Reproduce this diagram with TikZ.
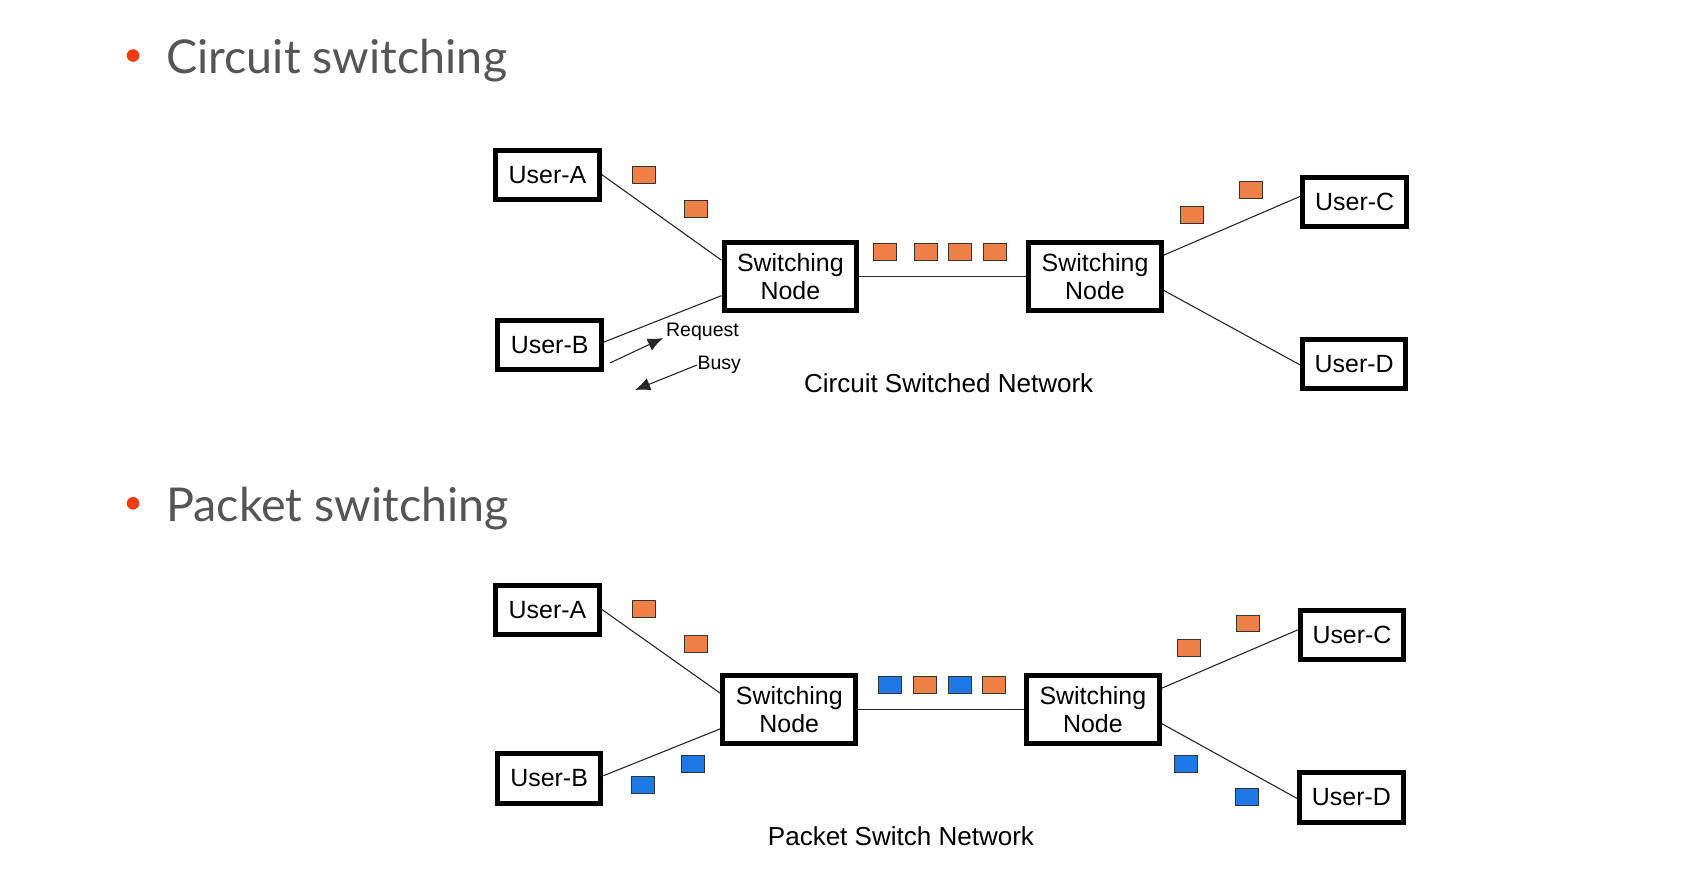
\documentclass[tikz,border=0pt]{standalone}
\usepackage{fontspec}
\setmainfont{Liberation Sans}
\newfontfamily\titlefont{Lato}
\usetikzlibrary{calc,arrows.meta}
\definecolor{pktorange}{RGB}{238,128,72}
\definecolor{pktblue}{RGB}{30,120,230}
\definecolor{titlegray}{RGB}{85,85,85}
\definecolor{bulletred}{RGB}{240,60,20}
\begin{document}
\begin{tikzpicture}[x=0.5pt,y=-0.5pt,
  box/.style={draw, line width=2.3pt, fill=white, inner sep=0pt, align=center,
    font=\fontsize{11.5}{13}\selectfont},
  user/.style={box, minimum width=47.7pt, minimum height=22.7pt},
  switchbox/.style={box, minimum width=61.2pt, minimum height=31.7pt},
  pkt/.style={draw=black!80, line width=0.4pt, minimum width=10.6pt, minimum height=7.8pt, inner sep=0pt},
  opkt/.style={pkt, fill=pktorange},
  bpkt/.style={pkt, fill=pktblue},
  link/.style={draw=black!85, line width=0.5pt},
  tip/.style={-{Latex[length=7pt,width=6pt]}},
  caption/.style={font=\fontsize{12}{14}\selectfont, inner sep=0pt},
  small/.style={font=\fontsize{9}{10}\selectfont, inner sep=0pt},
  title/.style={font=\titlefont\fontsize{21.5}{24}\selectfont, text=titlegray, inner sep=0pt, anchor=base west},
  bullet/.style={circle, fill=bulletred, minimum size=5.8pt, inner sep=0pt}
]
\fill[white] (0,0) rectangle (1568,810);
\useasboundingbox (0,0) rectangle (1568,810);

% ---------- titles ----------
\node[bullet] (b1) at (122.7,51.2) {};
\node[title] (t1) at (153,67.6) {Circuit switching};
\node[bullet] (b2) at (122.7,464.2) {};
\node[title] (t2) at (153,480.6) {Packet switching};

% ---------- circuit switched network ----------
\node[user] (UA1) at (505,161.5) {User-A};
\node[user] (UB1) at (507,318) {User-B};
\node[switchbox] (SNa1) at (729,255) {Switching\\Node};
\node[switchbox] (SNb1) at (1010,255) {Switching\\Node};
\node[user] (UC1) at (1249.5,186) {User-C};
\node[user] (UD1) at (1249,335.5) {User-D};

\draw[link] ($(UA1.north east)!0.49!(UA1.south east)$) -- ($(SNa1.north west)!0.28!(SNa1.south west)$);
\draw[link] ($(UB1.north east)!0.45!(UB1.south east)$) -- ($(SNa1.north west)!0.76!(SNa1.south west)$);
\draw[link] (SNa1.east) -- (SNb1.west);
\draw[link] ($(SNb1.north east)!0.21!(SNb1.south east)$) -- ($(UC1.north west)!0.40!(UC1.south west)$);
\draw[link] ($(SNb1.north east)!0.69!(SNb1.south east)$) -- ($(UD1.north west)!0.52!(UD1.south west)$);

\node[opkt] (p1) at (594,161.5) {};
\node[opkt] (p2) at (642,193) {};
\node[opkt] (p3) at (816,232) {};
\node[opkt] (p4) at (854,232) {};
\node[opkt] (p5) at (885,232) {};
\node[opkt] (p6) at (918,232) {};
\node[opkt] (p7) at (1099,198) {};
\node[opkt] (p8) at (1154,175) {};

\coordinate (rq1) at (562.6,334.8);
\coordinate (rq2) at (611.5,311.8);
\draw[link,tip] (rq1) -- (rq2);
\node[small, anchor=west] (rq) at (614,306) {Request};
\node[small, anchor=west] (busy) at (643,336.6) {Busy};
\coordinate (bz2) at (585.7,359.7);
\draw[link,tip] (busy.west) -- (bz2);

\node[caption] (cap1) at (875,353) {Circuit Switched Network};

% ---------- packet switched network ----------
\node[user] (UA2) at (505,562.5) {User-A};
\node[user] (UB2) at (506.5,718) {User-B};
\node[switchbox] (SNa2) at (728,654.5) {Switching\\Node};
\node[switchbox] (SNb2) at (1008,654.5) {Switching\\Node};
\node[user] (UC2) at (1247,586) {User-C};
\node[user] (UD2) at (1246.5,735.5) {User-D};

\draw[link] ($(UA2.north east)!0.49!(UA2.south east)$) -- ($(SNa2.north west)!0.28!(SNa2.south west)$);
\draw[link] ($(UB2.north east)!0.45!(UB2.south east)$) -- ($(SNa2.north west)!0.76!(SNa2.south west)$);
\draw[link] (SNa2.east) -- (SNb2.west);
\draw[link] ($(SNb2.north east)!0.21!(SNb2.south east)$) -- ($(UC2.north west)!0.40!(UC2.south west)$);
\draw[link] ($(SNb2.north east)!0.69!(SNb2.south east)$) -- ($(UD2.north west)!0.52!(UD2.south west)$);

\node[opkt] (q1) at (593.7,562) {};
\node[opkt] (q2) at (642,593.5) {};
\node[bpkt] (q3) at (821,632) {};
\node[opkt] (q4) at (853,632) {};
\node[bpkt] (q5) at (885,632) {};
\node[opkt] (q6) at (917,632) {};
\node[opkt] (q7) at (1097,598) {};
\node[opkt] (q8) at (1151,575) {};
\node[bpkt] (q9) at (593.4,723.7) {};
\node[bpkt] (q10) at (638.7,704.4) {};
\node[bpkt] (q11) at (1094,705) {};
\node[bpkt] (q12) at (1150,735) {};

\node[caption] (cap2) at (831,771) {Packet Switch Network};
\end{tikzpicture}
\end{document}
